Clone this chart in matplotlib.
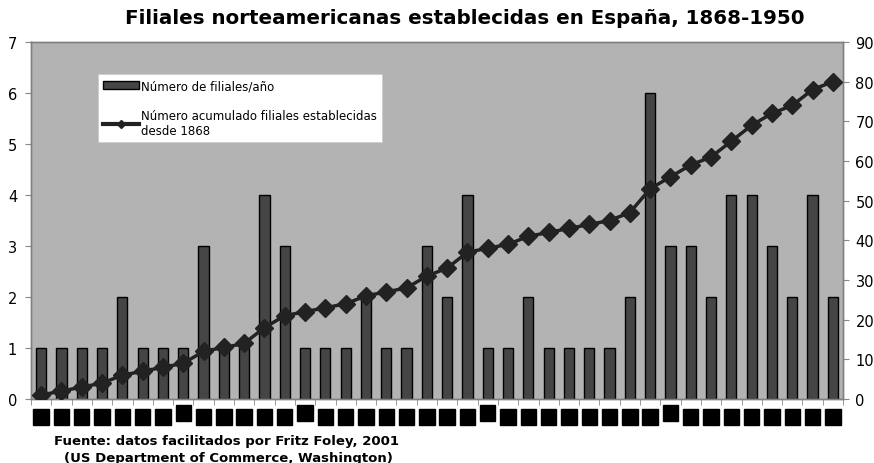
import numpy as np
import matplotlib
matplotlib.use("Agg")
import matplotlib.pyplot as plt
from matplotlib.lines import Line2D
from matplotlib.patches import Patch

plt.rcParams["font.family"] = ["DejaVu Sans"]

# filiales establecidas por año (40 años con alguna filial)
filiales = [1, 1, 1, 1, 2, 1, 1, 1, 3, 1,
            1, 4, 3, 1, 1, 1, 2, 1, 1, 3,
            2, 4, 1, 1, 2, 1, 1, 1, 1, 2,
            6, 3, 3, 2, 4, 4, 3, 2, 4, 2]
acumulado = np.cumsum(filiales)
left_ticks = list(range(0, 8))
right_ticks = list(range(0, 100, 10))
# etiquetas del eje x ilegibles en el original (cajas negras)
x_labels = ["■"] * len(filiales)
label_shift = [0] * len(filiales)
for i in (7, 13, 22, 31):
    label_shift[i] = 3

x = np.arange(len(filiales))

fig = plt.figure(figsize=(8.74, 4.64), dpi=100)
ax = fig.add_axes([31 / 874, 64 / 464, 812 / 874, 357 / 464])
ax.set_facecolor("#b3b3b3")

ax.bar(x, filiales, width=0.5, color="#454545", edgecolor="black",
       linewidth=1.0, zorder=2)
ax.set_xlim(-0.5, len(filiales) - 0.5)
ax.set_ylim(0, 7)
ax.set_yticks(left_ticks)
ax.set_xticks([])
ax.set_xticks(np.arange(-0.5, len(filiales), 1), minor=True)
ax.tick_params(axis="x", which="minor", length=4, color="#888888")
ax.tick_params(axis="y", length=4, color="#888888", labelsize=10.5, pad=6)

ax2 = ax.twinx()
ax2.plot(x, acumulado, color="#222222", linewidth=2.5, marker="D",
         markersize=9.5, markerfacecolor="#222222", markeredgecolor="#222222",
         zorder=3)
ax2.set_ylim(0, 90)
ax2.set_yticks(right_ticks)
ax2.tick_params(axis="y", length=4, color="#888888", labelsize=10.5, pad=5)

for a in (ax, ax2):
    for s in a.spines.values():
        s.set_color("#808080")
        s.set_linewidth(1.0)

for xi, lab, dy in zip(x, x_labels, label_shift):
    ax.annotate(lab, xy=(xi, 0), xycoords=("data", "axes fraction"),
                xytext=(0, -9.5 + dy), textcoords="offset points",
                ha="center", va="top", fontsize=7, color="black",
                bbox=dict(boxstyle="square,pad=0.32", fc="black", ec="black"))

handles = [
    Patch(facecolor="#454545", edgecolor="black", linewidth=1.0),
    Line2D([0], [0], color="#222222", linewidth=3, marker="D",
           markersize=4),
]
labels = ["Número de filiales/año",
          "Número acumulado filiales establecidas\ndesde 1868"]
leg = ax2.legend(handles, labels, loc="upper left",
                 bbox_to_anchor=(67 / 812, 1 - 32 / 357), fontsize=8.5,
                 frameon=True, fancybox=False, facecolor="white",
                 edgecolor="#cccccc", framealpha=1, handlelength=3.0,
                 handletextpad=0.2, labelspacing=1.4, borderpad=0.45,
                 borderaxespad=0)
leg.get_frame().set_linewidth(0.6)

fig.text(0.532, 0.961, "Filiales norteamericanas establecidas en España, 1868-1950",
         ha="center", va="center", fontsize=14.3, fontweight="bold")
fig.text(226 / 874, 1 - 442 / 464, "Fuente: datos facilitados por Fritz Foley, 2001",
         ha="center", va="center", fontsize=9.5, fontweight="bold")
fig.text(228 / 874, 1 - 459 / 464, "(US Department of Commerce, Washington)",
         ha="center", va="center", fontsize=9.5, fontweight="bold")

fig.savefig("out.png", dpi=100)
